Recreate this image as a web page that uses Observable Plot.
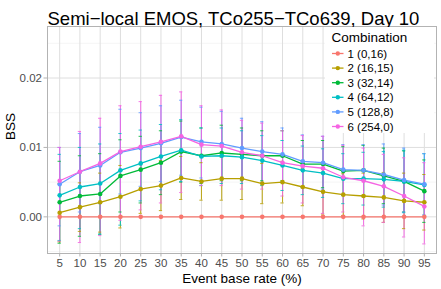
<!DOCTYPE html>
<html>
<head>
<meta charset="utf-8">
<script src="https://cdn.jsdelivr.net/npm/d3@7"></script>
<script src="https://cdn.jsdelivr.net/npm/@observablehq/plot@0.6"></script>
<style>
  html, body { margin: 0; padding: 0; background: #fff; }
  #chart { width: 441px; height: 289px; }
</style>
</head>
<body>
<div id="chart"></div>
<script>
const chartTitle = "Semi\u2212local EMOS, TCo255\u2212TCo639, Day 10";
const xTitle = "Event base rate (%)";
const yTitle = "BSS";
const legendTitle = "Combination";
const rates = [5,10,15,20,25,30,35,40,45,50,55,60,65,70,75,80,85,90,95];
const yTicks = [0, 0.01, 0.02];
const combos = ["1 (0,16)", "2 (16,15)", "3 (32,14)", "4 (64,12)", "5 (128,8)", "6 (254,0)"];
const colors = ["#F8766D", "#B79F00", "#00BA38", "#00BFC4", "#619CFF", "#F564E3"];

const bss1 = [0,0,0,0,0,0,0,0,0,0,0,0,0,0,0,0,0,0,0];
const bss2 = [0.0006,0.0014,0.0021,0.0029,0.0040,0.0045,0.0056,0.0051,0.0055,0.0055,0.0048,0.0050,0.0043,0.0036,0.0032,0.0030,0.0028,0.0023,0.0021];
const bss3 = [0.0021,0.0030,0.0033,0.0059,0.0068,0.0078,0.0094,0.0088,0.0092,0.0090,0.0088,0.0088,0.0076,0.0076,0.0066,0.0067,0.0059,0.0051,0.0037];
const bss4 = [0.0031,0.0043,0.0048,0.0067,0.0077,0.0087,0.0096,0.0087,0.0088,0.0086,0.0081,0.0074,0.0067,0.0063,0.0055,0.0055,0.0054,0.0051,0.0046];
const bss5 = [0.0047,0.0065,0.0074,0.0093,0.0099,0.0106,0.0115,0.0108,0.0105,0.0099,0.0094,0.0090,0.0080,0.0078,0.0068,0.0067,0.0061,0.0053,0.0047];
const bss6 = [0.0052,0.0065,0.0077,0.0094,0.0101,0.0108,0.0116,0.0104,0.0102,0.0093,0.0088,0.0078,0.0073,0.0070,0.0057,0.0052,0.0044,0.0030,0.0015];

const lo1 = [0,0,0,0,0,0,0,0,0,0,0,0,0,0,0,0,0,0,0];
const hi1 = [0,0,0,0,0,0,0,0,0,0,0,0,0,0,0,0,0,0,0];
const lo2 = [-0.0036,-0.0021,-0.0022,-0.0016,0.0005,0.0009,0.0025,0.0024,0.0024,0.0025,0.0019,0.0020,0.0016,0.0004,0.0002,-0.0003,-0.0008,-0.0017,-0.0019];
const hi2 = [0.0048,0.0049,0.0063,0.0074,0.0075,0.0081,0.0087,0.0078,0.0086,0.0085,0.0077,0.0080,0.0070,0.0068,0.0062,0.0063,0.0064,0.0063,0.0061];
const lo3 = [-0.0038,-0.0028,-0.0025,0.0007,0.0020,0.0032,0.0050,0.0048,0.0052,0.0052,0.0052,0.0052,0.0042,0.0042,0.0031,0.0031,0.0019,0.0007,-0.0008];
const hi3 = [0.0080,0.0088,0.0091,0.0111,0.0116,0.0124,0.0138,0.0128,0.0132,0.0128,0.0124,0.0124,0.0110,0.0110,0.0101,0.0103,0.0099,0.0095,0.0082];
const lo4 = [-0.0034,-0.0017,-0.0025,-0.0012,0.0023,0.0039,0.0051,0.0045,0.0048,0.0048,0.0045,0.0038,0.0032,0.0028,0.0019,0.0017,0.0014,0.0006,0.0001];
const hi4 = [0.0090,0.0100,0.0105,0.0120,0.0125,0.0133,0.0140,0.0128,0.0128,0.0124,0.0117,0.0110,0.0102,0.0098,0.0091,0.0093,0.0094,0.0096,0.0091];
const lo5 = [-0.0013,0.0007,0.0019,0.0033,0.0044,0.0051,0.0060,0.0056,0.0055,0.0054,0.0049,0.0050,0.0042,0.0040,0.0032,0.0029,0.0017,0.0007,0.0003];
const hi5 = [0.0100,0.0120,0.0129,0.0155,0.0150,0.0160,0.0168,0.0158,0.0152,0.0142,0.0137,0.0128,0.0118,0.0116,0.0104,0.0104,0.0105,0.0099,0.0091];
const lo6 = [-0.0035,-0.0037,-0.0027,-0.0005,0.0010,0.0020,0.0035,0.0045,0.0045,0.0040,0.0040,0.0030,0.0020,0.0005,0.0007,-0.0013,-0.0008,-0.0029,-0.0039];
const hi6 = [0.0100,0.0123,0.0142,0.0160,0.0166,0.0175,0.0180,0.0160,0.0154,0.0139,0.0135,0.0124,0.0117,0.0116,0.0103,0.0099,0.0090,0.0085,0.0078];

const bssAll = [bss1, bss2, bss3, bss4, bss5, bss6];
const loAll = [lo1, lo2, lo3, lo4, lo5, lo6];
const hiAll = [hi1, hi2, hi3, hi4, hi5, hi6];

const rows = [];
combos.forEach((c, i) => {
  rates.forEach((r, j) => {
    rows.push({combo: c, rate: r, bss: bssAll[i][j], lo: loAll[i][j], hi: hiAll[i][j]});
  });
});
const barRows = rows.filter(d => d.hi !== d.lo);

const font = "'Liberation Sans', Arial, sans-serif";
const gridMajor = "#dedede";
const gridMinor = "#eeeeee";
const axisText = "#4d4d4d";

const plot = Plot.plot({
  width: 441,
  height: 289,
  marginTop: 26,
  marginLeft: 47,
  marginRight: 5,
  marginBottom: 36,
  style: {fontFamily: font, background: "#fff", color: "#000"},
  x: {domain: [2, 98], axis: null},
  y: {domain: [-0.00528, 0.02742], axis: null},
  color: {domain: combos, range: colors},
  marks: [
    Plot.ruleY([-0.005, 0.005, 0.015, 0.025], {stroke: gridMinor, strokeWidth: 0.6}),
    Plot.ruleY(yTicks, {stroke: gridMajor, strokeWidth: 1}),
    Plot.ruleX(rates, {stroke: gridMajor, strokeWidth: 1}),
    // error bars
    Plot.ruleX(barRows, {x: "rate", y1: "lo", y2: "hi", stroke: "combo", strokeWidth: 1.1, strokeOpacity: 0.85}),
    Plot.ruleY(barRows, {y: "lo", x1: d => d.rate - 0.4, x2: d => d.rate + 0.4, stroke: "combo", strokeWidth: 1, strokeOpacity: 0.85}),
    Plot.ruleY(barRows, {y: "hi", x1: d => d.rate - 0.4, x2: d => d.rate + 0.4, stroke: "combo", strokeWidth: 1, strokeOpacity: 0.85}),
    Plot.line(rows, {x: "rate", y: "bss", z: "combo", stroke: "combo", strokeWidth: 1.3}),
    Plot.dot(rows, {x: "rate", y: "bss", fill: "combo", r: 2.3, stroke: "none"}),
    Plot.frame({stroke: "#b3b3b3", strokeWidth: 1}),
    Plot.axisX(rates, {tickSize: 3.5, stroke: "#b3b3b3", tickPadding: 2, fontSize: 11.5, fill: axisText, label: null}),
    Plot.axisY(yTicks, {tickSize: 3.5, stroke: "#b3b3b3", tickPadding: 2, fontSize: 11.5, fill: axisText, tickFormat: d3.format(".2f"), label: null}),
    Plot.text([xTitle], {frameAnchor: "bottom", dy: 29, fontSize: 13.5, fill: "#000"}),
    Plot.text([yTitle], {frameAnchor: "left", dx: -37, rotate: -90, fontSize: 13.5, fill: "#000"}),
    Plot.text([chartTitle], {frameAnchor: "top-left", textAnchor: "start", dy: -15, dx: 0, fontSize: 18.5, fill: "#000", style: "letter-spacing: 0.7px"})
  ]
});
document.getElementById("chart").appendChild(plot);

// legend (guide) drawn inside the panel at top-right
const svg = d3.select(plot);
const lg = svg.append("g").attr("font-family", font).attr("text-anchor", "start");
const lx = 325, ly = 27, lw = 109, lh = 106;
lg.append("rect").attr("x", lx).attr("y", ly).attr("width", lw).attr("height", lh)
  .style("fill", "#ffffff").style("stroke", "none");
lg.append("text").attr("x", 331.5).attr("y", 42).attr("font-size", 13.5).style("fill", "#000").text(legendTitle);
combos.forEach((c, i) => {
  const cy = 53.5 + i * 14.6;
  lg.append("line").attr("x1", 332).attr("x2", 343.5).attr("y1", cy).attr("y2", cy)
    .style("stroke", colors[i]).attr("stroke-width", 1.3);
  lg.append("circle").attr("cx", 337.8).attr("cy", cy).attr("r", 2.2).style("fill", colors[i]);
  lg.append("text").attr("x", 347.5).attr("y", cy + 4).attr("font-size", 11.5).style("fill", "#000").text(c);
});
</script>
</body>
</html>
